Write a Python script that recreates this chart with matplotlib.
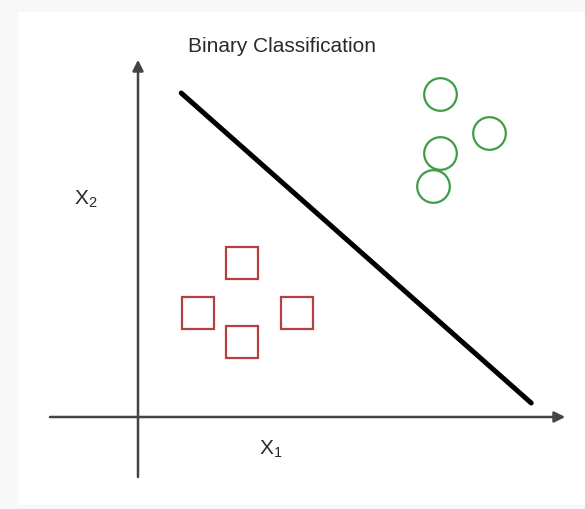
"""
Binary classification sketch: two classes split by a linear boundary.
"""

import matplotlib
matplotlib.use("Agg")
import matplotlib.pyplot as plt
from matplotlib.patches import Rectangle

plt.rcParams["font.family"] = ["Liberation Sans", "DejaVu Sans"]
plt.rcParams["mathtext.fontset"] = "custom"
plt.rcParams["mathtext.rm"] = "Liberation Sans"

# Class A (red squares)
square_x = [2.6, 1.5, 3.98, 2.6]
square_y = [3.85, 2.6, 2.6, 1.88]

# Class B (green circles)
circle_x = [7.55, 8.78, 7.55, 7.38]
circle_y = [8.08, 7.1, 6.6, 5.78]

# Decision boundary end points
boundary_x = [1.08, 9.83]
boundary_y = [8.1, 0.35]

# Axis extents (arrows)
x_axis = [-2.2, 10.68]
y_axis = [-1.5, 8.93]

title = "Binary Classification"
x_label = r"$\mathregular{X_1}$"
y_label = r"$\mathregular{X_2}$"

fig = plt.figure(figsize=(5.85, 5.09), dpi=100)
fig.patch.set_facecolor("#f8f8f8")
fig.patches.append(Rectangle((0.03, 0.008), 0.97, 0.968, transform=fig.transFigure,
                             facecolor="white", edgecolor="none", zorder=-10))

ax = fig.add_axes([0, 0, 1, 1])
ax.set_zorder(5)
ax.set_xlim(-3.45, 11.175)
ax.set_ylim(-2.3, 10.425)
ax.axis("off")

axis_color = "#444444"
# Axes with arrow heads
ax.annotate("", xy=(x_axis[1], 0), xytext=(x_axis[0], 0),
            arrowprops=dict(arrowstyle="-|>", color=axis_color, lw=1.8,
                            mutation_scale=16, shrinkA=0, shrinkB=0))
ax.annotate("", xy=(0, y_axis[1]), xytext=(0, y_axis[0]),
            arrowprops=dict(arrowstyle="-|>", color=axis_color, lw=1.8,
                            mutation_scale=16, shrinkA=0, shrinkB=0))

# Decision boundary
ax.plot(boundary_x, boundary_y, color="black", linewidth=3.6, solid_capstyle="round")

# Data points
ax.plot(square_x, square_y, linestyle="none", marker="s", markersize=23.5,
        markerfacecolor="none", markeredgecolor="#b5403f", markeredgewidth=1.6)
ax.plot(circle_x, circle_y, linestyle="none", marker="o", markersize=23.5,
        markerfacecolor="none", markeredgecolor="#3f9e45", markeredgewidth=1.6)

# Labels
ax.text(3.6, 9.25, title, ha="center", va="center", fontsize=15, color="#2a2a2a")
ax.text(-1.3, 5.45, y_label, ha="center", va="center", fontsize=15, color="#2a2a2a")
ax.text(3.33, -0.82, x_label, ha="center", va="center", fontsize=15, color="#2a2a2a")

plt.savefig("out.png", dpi=100)
